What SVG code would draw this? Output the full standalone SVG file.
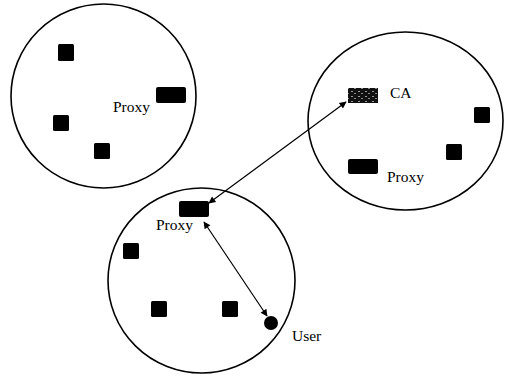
<svg xmlns="http://www.w3.org/2000/svg" width="509" height="376" viewBox="0 0 509 376">
  <style>
    .domain { fill: none; stroke: #000; stroke-width: 1.6; }
    .host { fill: #000; }
    .label { font-family: "Liberation Serif", "Times New Roman", serif; font-size: 15.5px; fill: #000; }
    .link { stroke: #000; stroke-width: 1.2; fill: none; marker-start: url(#head); marker-end: url(#head); }
  </style>
  <defs>
    <marker id="head" viewBox="0 0 10 10" refX="9" refY="5" markerWidth="9" markerHeight="7" markerUnits="userSpaceOnUse" orient="auto-start-reverse">
      <path d="M0,0 L10,5 L0,10 z" fill="#000"/>
    </marker>
    <pattern id="speckle" width="7" height="5" patternUnits="userSpaceOnUse">
      <rect width="7" height="5" fill="#111"/>
      <rect x="1" y="1" width="2" height="1" fill="#999"/>
      <rect x="4" y="3" width="2" height="1" fill="#888"/>
    </pattern>
  </defs>

  <!-- domain A (top left) -->
  <g id="domainA">
    <ellipse class="domain" cx="103.5" cy="96" rx="92.5" ry="92"/>
    <rect class="host" x="58" y="44" width="16" height="17" rx="1.5"/>
    <rect class="host" x="53" y="115" width="16" height="16" rx="1.5"/>
    <rect class="host" x="94" y="143" width="16" height="16" rx="1.5"/>
    <g id="proxyA">
      <rect class="host" x="156" y="87" width="30" height="16" rx="2"/>
      <text class="label" x="113" y="112">Proxy</text>
    </g>
  </g>

  <!-- domain B (right) -->
  <g id="domainB">
    <ellipse class="domain" cx="405.5" cy="121" rx="97.5" ry="89"/>
    <rect class="host" x="474" y="107" width="16" height="16" rx="1.5"/>
    <rect class="host" x="446" y="144" width="16" height="16" rx="1.5"/>
    <g id="ca">
      <rect x="348" y="88" width="30" height="15" fill="url(#speckle)"/>
      <text class="label" x="390" y="98">CA</text>
    </g>
    <g id="proxyB">
      <rect class="host" x="348" y="159" width="30" height="15" rx="2"/>
      <text class="label" x="387" y="182">Proxy</text>
    </g>
  </g>

  <!-- domain C (bottom) -->
  <g id="domainC">
    <ellipse class="domain" cx="201.5" cy="280.5" rx="93.5" ry="92.5"/>
    <rect class="host" x="123" y="243" width="16" height="16" rx="1.5"/>
    <rect class="host" x="151" y="301" width="16" height="16" rx="1.5"/>
    <rect class="host" x="222" y="301" width="16" height="16" rx="1.5"/>
    <g id="proxyC">
      <rect class="host" x="179" y="201" width="30" height="16" rx="2"/>
      <text class="label" x="156" y="230">Proxy</text>
    </g>
    <g id="user">
      <circle class="host" cx="271" cy="323" r="7"/>
      <text class="label" x="292" y="341">User</text>
    </g>
  </g>

  <!-- connectors -->
  <g id="connectors">
    <line class="link" x1="209" y1="203" x2="346" y2="102"/>
    <line class="link" x1="204" y1="222" x2="267" y2="316"/>
  </g>
</svg>
